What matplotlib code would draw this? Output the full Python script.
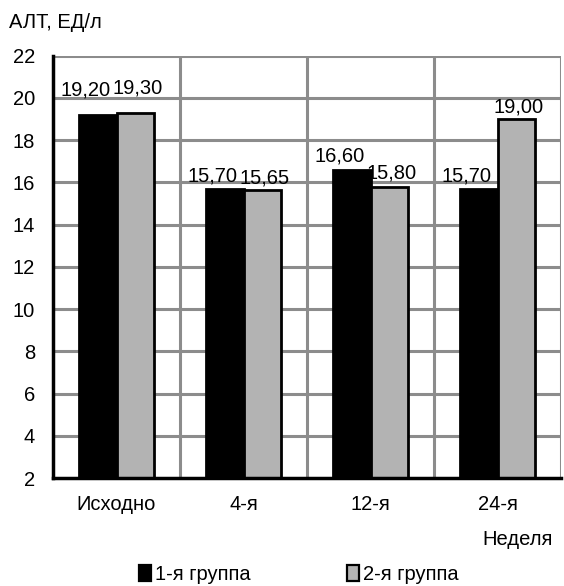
import matplotlib.pyplot as plt
import numpy as np
from matplotlib.patches import Patch

plt.rcParams['font.family'] = ['Liberation Sans', 'DejaVu Sans']

categories = ['Исходно', '4-я', '12-я', '24-я']
group1 = [19.20, 15.70, 16.60, 15.70]
group2 = [19.30, 15.65, 15.80, 19.00]
series_names = ['1-я группа', '2-я группа']
yticks = [2, 4, 6, 8, 10, 12, 14, 16, 18, 20, 22]

# vertical lift of value labels (points) for each week
label_pad = [11, 2, 3, 2]
FS = 14.5

fig = plt.figure(figsize=(5.64, 5.86), dpi=100)
ax = fig.add_axes([0.094, 0.184, 0.901, 0.721])

x = np.arange(len(categories))
w = 0.295
ax.bar(x - w / 2, np.array(group1) - 2, w, bottom=2, color='black',
       edgecolor='black', linewidth=2, zorder=3)
ax.bar(x + w / 2, np.array(group2) - 2, w, bottom=2, color='#b3b3b3',
       edgecolor='black', linewidth=2, zorder=3)

fmt = lambda v: f'{v:.2f}'.replace('.', ',')
for i in range(len(categories)):
    ax.annotate(fmt(group1[i]), (x[i] - w / 2 - 0.1, group1[i]),
                xytext=(0, label_pad[i]), textcoords='offset points',
                ha='center', va='bottom', fontsize=FS, zorder=4)
    ax.annotate(fmt(group2[i]), (x[i] + w / 2 + 0.02, group2[i]),
                xytext=(0, label_pad[i]), textcoords='offset points',
                ha='center', va='bottom', fontsize=FS, zorder=4)

ax.set_xlim(-0.5, len(categories) - 0.5)
ax.set_ylim(2, 22)
ax.set_yticks(yticks)
ax.set_xticks(x)
ax.set_xticklabels(categories)
ax.tick_params(axis='both', length=0, labelsize=FS)
ax.tick_params(axis='x', pad=12)
ax.tick_params(axis='y', pad=13)

grid_color = '#8c8c8c'
for yv in yticks[1:]:
    ax.axhline(yv, color=grid_color, linewidth=2.2, zorder=1)
for xv in np.arange(0.5, len(categories) - 0.5 + 1, 1.0):
    ax.axvline(xv, color=grid_color, linewidth=2.2, zorder=1)

for side in ['top', 'right']:
    ax.spines[side].set_visible(False)
for side in ['left', 'bottom']:
    ax.spines[side].set_linewidth(2.5)
    ax.spines[side].set_color('black')
    ax.spines[side].set_zorder(5)

fig.text(0.016, 0.962, 'АЛТ, ЕД/л', fontsize=FS, ha='left', va='center')
fig.text(0.980, 0.08, 'Неделя', fontsize=FS, ha='right', va='center')

handles = [Patch(facecolor='black', edgecolor='black', linewidth=1.6),
           Patch(facecolor='#b3b3b3', edgecolor='black', linewidth=1.6)]
fig.legend(handles, series_names, loc='center', bbox_to_anchor=(0.53, 0.02),
           ncol=2, frameon=False, fontsize=FS, handlelength=0.6,
           handleheight=0.85, handletextpad=0.2, columnspacing=4.8)

fig.savefig('out.png', dpi=100)
